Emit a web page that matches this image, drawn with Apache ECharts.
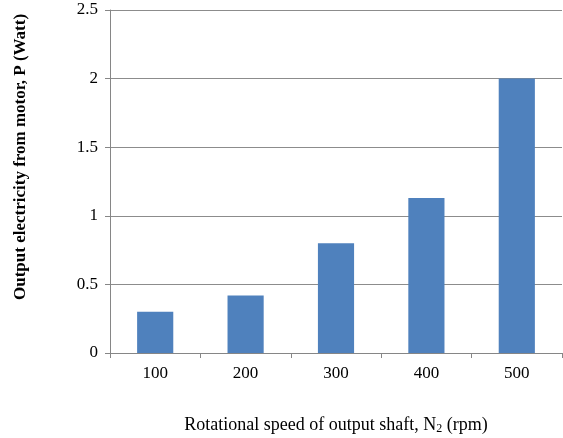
<!DOCTYPE html>
<html><head><meta charset="utf-8">
<script src="https://cdn.jsdelivr.net/npm/echarts@6/dist/echarts.min.js"></script>
<style>html,body{margin:0;padding:0;background:#fff}#c{width:563px;height:438px}</style>
</head><body><div id="c"></div>
<script>
const categories = ['100', '200', '300', '400', '500'];
const power = [0.30, 0.42, 0.80, 1.13, 2.00];
const yTicks = [0, 0.5, 1, 1.5, 2, 2.5];

const chart = echarts.init(document.getElementById('c'));
const serif = '"Liberation Serif","DejaVu Serif",serif';
chart.setOption({
  animation: false,
  grid: { left: 110, right: 1, top: 10, bottom: 85, outerBoundsMode: 'none', containLabel: false },
  xAxis: {
    type: 'category',
    data: categories,
    axisLine: { lineStyle: { color: '#868686', width: 1 } },
    axisTick: { show: true, length: 5, alignWithLabel: false, lineStyle: { color: '#868686' } },
    axisLabel: { color: '#000', fontFamily: serif, fontSize: 17, margin: 12 },
    name: '{a|Rotational speed of output shaft, N}{s|2}{a| (rpm)}',
    nameLocation: 'middle',
    nameGap: 62,
    nameTextStyle: {
      rich: {
        a: { fontFamily: serif, fontSize: 18, color: '#000' },
        s: { fontFamily: serif, fontSize: 12, color: '#000', verticalAlign: 'bottom', padding: [8, 0, 0, 0] }
      }
    }
  },
  yAxis: {
    type: 'value',
    min: 0, max: 2.5, interval: 0.5,
    axisLine: { show: true, lineStyle: { color: '#868686', width: 1 } },
    axisTick: { show: true, length: 5, lineStyle: { color: '#868686' } },
    splitLine: { lineStyle: { color: '#8c8c8c', width: 1 } },
    axisLabel: { color: '#000', fontFamily: serif, fontSize: 17, margin: 12,
      formatter: v => yTicks.includes(v) ? String(v) : '' }
  },
  graphic: [{
    type: 'text',
    rotation: Math.PI / 2,
    x: 12, y: 300,
    style: {
      text: 'Output electricity from motor, P (Watt)',
      font: 'bold 17px ' + serif,
      fill: '#000'
    }
  }],
  series: [{
    type: 'bar',
    data: power,
    barWidth: '40%',
    itemStyle: { color: '#4F81BD' }
  }]
});
</script></body></html>
